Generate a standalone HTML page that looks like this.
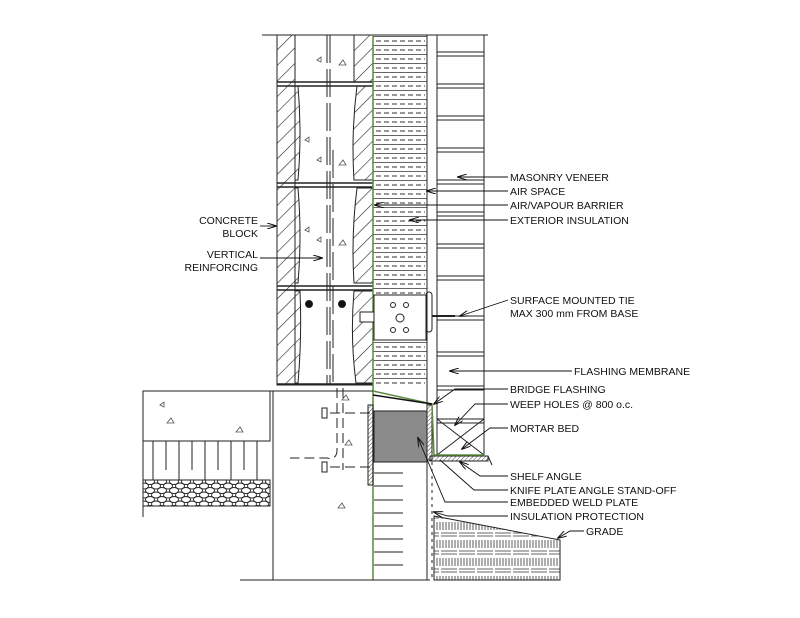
<!DOCTYPE html>
<html><head><meta charset="utf-8"><style>
html,body{margin:0;padding:0;background:#fff;}
svg{display:block;}
text{font-family:"Liberation Sans",sans-serif;font-size:10.5px;fill:#111;}
</style></head><body>
<svg width="800" height="618" viewBox="0 0 800 618" xmlns="http://www.w3.org/2000/svg">
<defs>
<pattern id="hatch" width="11" height="11" patternUnits="userSpaceOnUse" patternTransform="rotate(45)">
<line x1="0" y1="0" x2="0" y2="11" stroke="#222" stroke-width="1.2"/></pattern>
<pattern id="fine" width="3" height="3" patternUnits="userSpaceOnUse" patternTransform="rotate(45)">
<line x1="0" y1="0" x2="0" y2="3" stroke="#222" stroke-width="0.8"/></pattern>
<pattern id="ins" width="54" height="9" patternUnits="userSpaceOnUse" x="373" y="36">
<line x1="0" y1="0.5" x2="54" y2="0.5" stroke="#333" stroke-width="0.8"/>
<line x1="3" y1="5" x2="52" y2="5" stroke="#333" stroke-width="0.9" stroke-dasharray="5,3"/></pattern>
<pattern id="weave" width="18" height="18" patternUnits="userSpaceOnUse">
<rect width="18" height="18" fill="#fff"/>
<path d="M2 0v8M5 0v8M8 0v8M9 11h9M9 14h9M0 11h7M0 14h7M11 0v8M14 0v8M17 0v8" stroke="#333" stroke-width="0.8" fill="none"/></pattern>
<pattern id="gravel" width="12" height="9" patternUnits="userSpaceOnUse">
<rect width="12" height="9" fill="#fff"/>
<ellipse cx="6" cy="4.5" rx="4.5" ry="3" fill="none" stroke="#222" stroke-width="0.9"/>
<ellipse cx="0" cy="0" rx="4.5" ry="3" fill="none" stroke="#222" stroke-width="0.9"/>
<ellipse cx="12" cy="0" rx="4.5" ry="3" fill="none" stroke="#222" stroke-width="0.9"/>
<ellipse cx="0" cy="9" rx="4.5" ry="3" fill="none" stroke="#222" stroke-width="0.9"/>
<ellipse cx="12" cy="9" rx="4.5" ry="3" fill="none" stroke="#222" stroke-width="0.9"/></pattern>
<marker id="ar" markerWidth="10" markerHeight="6" refX="9" refY="3" orient="auto" markerUnits="userSpaceOnUse">
<path d="M0,0 L10,3 L0,6" fill="none" stroke="#111" stroke-width="1"/></marker>
</defs>
<g stroke="#222" fill="none" stroke-width="1">
<line x1="262" y1="35" x2="488" y2="35"/>
<rect x="277" y="35" width="96" height="350"/>
<rect x="277" y="35" width="18" height="350" fill="url(#hatch)"/>
<g fill="url(#hatch)">
<path d="M354 35 H373 V82 H354Z"/>
<path d="M295 86 L298 86 Q302 133 298 180 H295Z"/>
<path d="M373 86 V180 H354 Q351 133 357 86Z"/>
<path d="M295 188 L298 188 Q302 235 298 283 H295Z"/>
<path d="M373 188 V283 H354 Q351 235 357 188Z"/>
<path d="M295 291 L300 291 Q302 337 298 383 H295Z"/>
<path d="M373 291 V383 H356 Q350 337 354 291Z"/>
</g>
<g stroke-width="1.5"><line x1="277" y1="82" x2="373" y2="82"/><line x1="277" y1="86" x2="373" y2="86"/>
<line x1="277" y1="183" x2="373" y2="183"/><line x1="277" y1="187" x2="373" y2="187"/>
<line x1="277" y1="286" x2="373" y2="286"/><line x1="277" y1="290" x2="373" y2="290"/>
<line x1="277" y1="384" x2="373" y2="384"/></g>
<g stroke-dasharray="28,6"><line x1="327" y1="35" x2="327" y2="385"/><line x1="330" y1="35" x2="330" y2="385"/><line x1="333" y1="150" x2="333" y2="385"/></g>
<g stroke="#555" stroke-width="0.8">
<path d="M317 60 l4 -3 l0 5z"/><path d="M339 65 l4 -5 l3 5z"/><path d="M317 160 l4 -3 l0 5z"/><path d="M339 165 l4 -5 l3 5z"/><path d="M305 140 l4 -3 l0 5z"/>
<path d="M317 240 l4 -3 l0 5z"/><path d="M339 245 l4 -5 l3 5z"/><path d="M305 230 l4 -3 l0 5z"/>
<path d="M160 405 l4 -3 l0 5z"/><path d="M167 423 l4 -5 l3 5z"/><path d="M236 432 l4 -5 l3 5z"/>
<path d="M345 445 l4 -5 l3 5z"/><path d="M338 508 l4 -5 l3 5z"/><path d="M342 400 l4 -5 l3 5z"/></g>
<circle cx="309" cy="304" r="3.5" fill="#111"/><circle cx="342" cy="304" r="3.5" fill="#111"/>
<rect x="373" y="36" width="54" height="350" fill="url(#ins)" stroke="none"/>
<line x1="373" y1="35" x2="373" y2="580" stroke="#5a8a3a" stroke-width="1.5"/>
<line x1="427" y1="35" x2="427" y2="410"/>
<line x1="437" y1="35" x2="437" y2="455"/>
<line x1="484" y1="35" x2="484" y2="455"/>
<g><line x1="437" y1="52" x2="484" y2="52"/><line x1="437" y1="56" x2="484" y2="56"/>
<line x1="437" y1="84" x2="484" y2="84"/><line x1="437" y1="88" x2="484" y2="88"/>
<line x1="437" y1="116" x2="484" y2="116"/><line x1="437" y1="120" x2="484" y2="120"/>
<line x1="437" y1="148" x2="484" y2="148"/><line x1="437" y1="152" x2="484" y2="152"/>
<line x1="437" y1="180" x2="484" y2="180"/><line x1="437" y1="184" x2="484" y2="184"/>
<line x1="437" y1="212" x2="484" y2="212"/><line x1="437" y1="216" x2="484" y2="216"/>
<line x1="437" y1="244" x2="484" y2="244"/><line x1="437" y1="248" x2="484" y2="248"/>
<line x1="437" y1="276" x2="484" y2="276"/><line x1="437" y1="280" x2="484" y2="280"/>
<line x1="437" y1="316" x2="484" y2="316"/><line x1="437" y1="320" x2="484" y2="320"/>
<line x1="437" y1="352" x2="484" y2="352"/><line x1="437" y1="356" x2="484" y2="356"/>
<line x1="437" y1="386" x2="484" y2="386"/><line x1="437" y1="390" x2="484" y2="390"/>
<line x1="437" y1="419" x2="484" y2="419"/><line x1="437" y1="423" x2="484" y2="423"/>
<line x1="437" y1="419" x2="484" y2="455"/><line x1="437" y1="455" x2="484" y2="419"/>
<line x1="437" y1="455" x2="484" y2="455"/></g>
<rect x="374" y="295" width="52" height="45" fill="#fff"/>
<circle cx="393" cy="305" r="2.5"/><circle cx="406" cy="305" r="2.5"/><circle cx="400" cy="318" r="4"/><circle cx="393" cy="330" r="2.5"/><circle cx="406" cy="330" r="2.5"/>
<rect x="426" y="292" width="6" height="40" rx="3"/>
<line x1="432" y1="316" x2="455" y2="316" stroke-width="2"/>
<rect x="360" y="312" width="14" height="10" fill="#fff"/>
<rect x="143" y="391" width="127" height="50"/>
<g><line x1="153" y1="441" x2="153" y2="480"/><line x1="166" y1="441" x2="166" y2="470"/><line x1="179" y1="441" x2="179" y2="480"/><line x1="192" y1="441" x2="192" y2="470"/><line x1="205" y1="441" x2="205" y2="480"/><line x1="218" y1="441" x2="218" y2="470"/><line x1="231" y1="441" x2="231" y2="480"/><line x1="244" y1="441" x2="244" y2="470"/><line x1="257" y1="441" x2="257" y2="480"/></g>
<rect x="143" y="480" width="127" height="26" fill="url(#gravel)"/>
<line x1="143" y1="391" x2="143" y2="517"/>
<line x1="273" y1="391" x2="273" y2="580"/>
<line x1="270" y1="391" x2="373" y2="391"/>
<line x1="240" y1="580" x2="430" y2="580"/>
<g stroke-dasharray="10,5"><path d="M337 388 V450 Q337 460 327 458 H290"/><line x1="343" y1="388" x2="343" y2="470"/>
<line x1="330" y1="413" x2="370" y2="413"/><line x1="330" y1="467" x2="370" y2="467"/></g>
<rect x="322" y="408" width="5" height="10"/><rect x="322" y="462" width="5" height="10"/>
<rect x="368" y="405" width="5" height="80" fill="url(#fine)"/>
<rect x="374" y="411" width="53" height="51" fill="#8a8a8a"/>
<line x1="374" y1="411" x2="427" y2="411" stroke-dasharray="4,2"/>
<rect x="427" y="405" width="5" height="55" fill="url(#fine)"/>
<rect x="430" y="456" width="58" height="5" fill="url(#fine)"/>
<path d="M488 456 L492 465"/>
<path d="M373 391 L432 404 L434 455 L484 455" stroke="#5a8a3a" stroke-width="1.5"/>
<path d="M373 395 L432 404" stroke="#111" stroke-width="1.5"/>
<line x1="427" y1="462" x2="427" y2="580"/>
<line x1="432" y1="462" x2="432" y2="580" stroke-dasharray="3,4"/>
<g><line x1="374" y1="473" x2="403" y2="473"/><line x1="374" y1="486" x2="403" y2="486"/><line x1="374" y1="500" x2="403" y2="500"/><line x1="374" y1="513" x2="403" y2="513"/><line x1="374" y1="526" x2="403" y2="526"/><line x1="374" y1="539" x2="403" y2="539"/><line x1="374" y1="552" x2="403" y2="552"/><line x1="374" y1="565" x2="403" y2="565"/></g>
<path d="M434 516 L560 540 L560 580 L434 580Z" fill="url(#weave)"/>
<g stroke="#111" stroke-width="0.9">
<line x1="508" y1="177" x2="458" y2="177" marker-end="url(#ar)"/>
<line x1="508" y1="191" x2="427" y2="191" marker-end="url(#ar)"/>
<line x1="508" y1="205" x2="375" y2="205" marker-end="url(#ar)"/>
<line x1="508" y1="220" x2="410" y2="220" marker-end="url(#ar)"/>
<line x1="260" y1="226" x2="276" y2="226" marker-end="url(#ar)"/>
<line x1="260" y1="258" x2="322" y2="258" marker-end="url(#ar)"/>
<line x1="508" y1="300" x2="460" y2="316" marker-end="url(#ar)"/>
<line x1="572" y1="371" x2="450" y2="371" marker-end="url(#ar)"/>
<polyline points="508,389 455,389 434,404" marker-end="url(#ar)"/>
<polyline points="508,404 475,404 455,425" marker-end="url(#ar)"/>
<polyline points="508,428 490,428 462,449" marker-end="url(#ar)"/>
<polyline points="508,476 480,476 460,462" marker-end="url(#ar)"/>
<polyline points="508,490 474,490 440,460"/>
<polyline points="508,502 445,502 418,438" marker-end="url(#ar)"/>
<polyline points="508,516 448,516 434,512" marker-end="url(#ar)"/>
<polyline points="584,531 570,531 558,538" marker-end="url(#ar)"/>
</g>
</g>
<text x="510" y="181">MASONRY VENEER</text>
<text x="510" y="195">AIR SPACE</text>
<text x="510" y="209">AIR/VAPOUR BARRIER</text>
<text x="510" y="224">EXTERIOR INSULATION</text>
<text x="258" y="224" text-anchor="end">CONCRETE</text>
<text x="258" y="237" text-anchor="end">BLOCK</text>
<text x="258" y="258" text-anchor="end">VERTICAL</text>
<text x="258" y="271" text-anchor="end">REINFORCING</text>
<text x="510" y="304">SURFACE MOUNTED TIE</text>
<text x="510" y="317">MAX 300 mm FROM BASE</text>
<text x="574" y="375">FLASHING MEMBRANE</text>
<text x="510" y="393">BRIDGE FLASHING</text>
<text x="510" y="408">WEEP HOLES @ 800 o.c.</text>
<text x="510" y="432">MORTAR BED</text>
<text x="510" y="480">SHELF ANGLE</text>
<text x="510" y="494">KNIFE PLATE ANGLE STAND-OFF</text>
<text x="510" y="506">EMBEDDED WELD PLATE</text>
<text x="510" y="520">INSULATION PROTECTION</text>
<text x="586" y="535">GRADE</text>
</svg>
</body></html>
